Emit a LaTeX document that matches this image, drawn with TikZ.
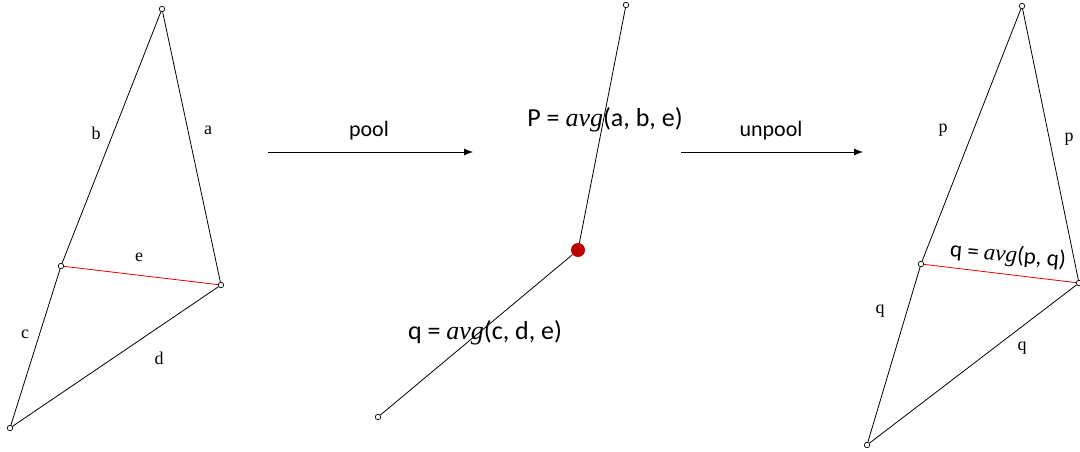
\documentclass[tikz,border=0pt]{standalone}
\usepackage{fontspec}
\setmainfont{Liberation Serif}
\newfontfamily\calib{Carlito}
\usetikzlibrary{positioning,arrows.meta}
\newcommand{\avgop}{{\rmfamily\itshape avg}}

\begin{document}
\begin{tikzpicture}[x=1pt,y=-1pt]
\useasboundingbox (0,0) rectangle (1080,452);
 \begin{scope}[every node/.style={circle,draw=black,fill=white,inner sep=0pt,minimum size=5.5pt,line width=0.7pt}]
    % before pooling
    \node (v1) at (162,9) {};
    \node (v2) at (221,285) {};
    \node (v3) at (61,266) {};
    \node (v4) at (10,428) {};
    % after pooling
    \node (w1) at (626,5) {};
    \node (w3) at (378,417) {};
    % after unpooling
    \node (u1) at (1022,6) {};
    \node (u2) at (1079,283) {};
    \node (u3) at (921,264) {};
    \node (u4) at (867,445) {};
 \end{scope}
 \node (w2) [circle,fill=red!75!black,inner sep=0pt,minimum size=14pt] at (578,250) {};

 \begin{scope}[every edge/.style={draw=black, line width=0.8pt}]
   \draw (v1) edge (v2);
   \draw (v1) edge (v3);
   \draw (v3) edge (v4);
   \draw (v4) edge (v2);
   \draw (v3) edge[draw=red!90!black] (v2);
   \draw (w1) edge (w2);
   \draw (w2) edge (w3);
   \draw (u1) edge (u2);
   \draw (u1) edge (u3);
   \draw (u3) edge (u4);
   \draw (u4) edge (u2);
   \draw (u3) edge[draw=red!90!black] (u2);
 \end{scope}

 \begin{scope}[every node/.style={font=\fontsize{18}{20}\selectfont}]
   \node (la) at (208,130) {a};
   \node (lb) at (96,133) {b};
   \node (lc) at (25,334) {c};
   \node (ld) at (159,358) {d};
   \node (le) at (139,257) {e};
   \node (lp1) at (943,130) {p};
   \node (lp2) at (1069,139) {p};
   \node (lq1) at (880,311) {q};
   \node (lq2) at (1022,348) {q};
 \end{scope}

 \begin{scope}[every node/.style={font=\calib\fontsize{26}{30}\selectfont}]
   \node (tP) at (605,120) {P = \avgop(a, b, e)};
   \node (tq) at (485,333) {q = \avgop(c, d, e)};
   \node (tqq) [font=\calib\fontsize{23}{27}\selectfont, rotate=-5] at (1008,256) {q = \avgop(p, q)};
   \node (tpool) [font=\calib\fontsize{22}{26}\selectfont] at (369,131) {pool};
   \node (tunpool) [font=\calib\fontsize{22}{26}\selectfont] at (771,131) {unpool};
 \end{scope}

 \coordinate (a1) at (268,152);
 \coordinate (a2) at (473,152);
 \coordinate (a3) at (681,152);
 \coordinate (a4) at (863,152);
 \draw[-{Latex[length=9pt,width=7pt]}, line width=0.8pt] (a1) -- (a2);
 \draw[-{Latex[length=9pt,width=7pt]}, line width=0.8pt] (a3) -- (a4);
\end{tikzpicture}
\end{document}
